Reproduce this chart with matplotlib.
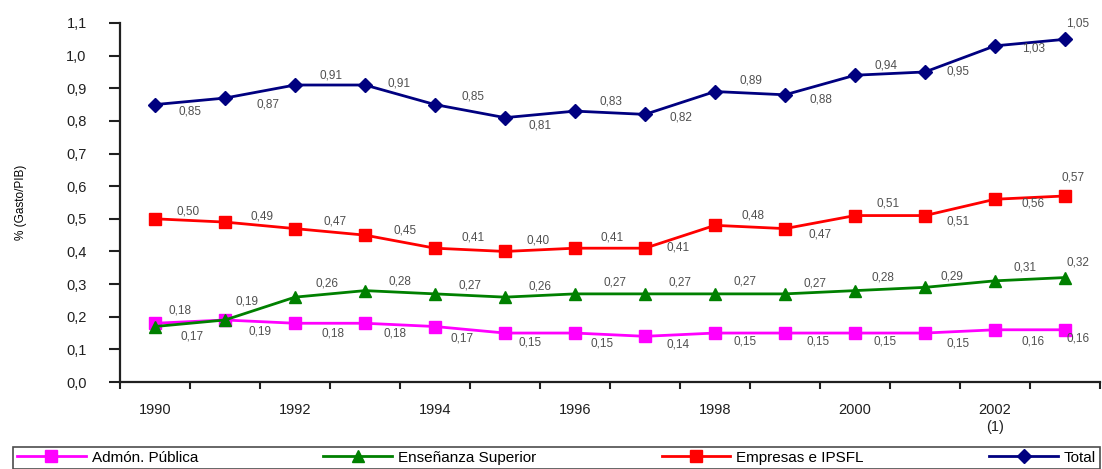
import matplotlib
matplotlib.use("Agg")
import matplotlib.pyplot as plt
from matplotlib.ticker import FixedLocator, FuncFormatter

plt.rcParams['font.family'] = ['Liberation Sans', 'DejaVu Sans']

years = ["1990", "", "1992", "", "1994", "", "1996", "", "1998", "", "2000", "", "2002\n(1)", ""]
admon = [0.18, 0.19, 0.18, 0.18, 0.17, 0.15, 0.15, 0.14, 0.15, 0.15, 0.15, 0.15, 0.16, 0.16]
ensenanza = [0.17, 0.19, 0.26, 0.28, 0.27, 0.26, 0.27, 0.27, 0.27, 0.27, 0.28, 0.29, 0.31, 0.32]
empresas = [0.50, 0.49, 0.47, 0.45, 0.41, 0.40, 0.41, 0.41, 0.48, 0.47, 0.51, 0.51, 0.56, 0.57]
total = [0.85, 0.87, 0.91, 0.91, 0.85, 0.81, 0.83, 0.82, 0.89, 0.88, 0.94, 0.95, 1.03, 1.05]
names = ["Admón. Pública", "Enseñanza Superior", "Empresas e IPSFL", "Total"]

# label offsets in pixels (dx, dy) relative to the point, dy positive = up
off_admon = [(25, 13), (35, -12), (38, -10), (30, -10), (27, -12), (25, -9), (27, -10), (33, -8),
             (30, -8), (33, -8), (30, -8), (33, -10), (38, -12), (13, -9)]
off_ens = [(37, -10), (22, 18), (32, 14), (35, 9), (35, 8), (35, 11), (40, 11), (35, 11),
           (30, 12), (30, 10), (28, 13), (27, 11), (30, 13), (13, 15)]
off_emp = [(33, 7), (37, 6), (40, 7), (40, 5), (38, 11), (33, 11), (37, 11), (33, 1),
           (38, 10), (35, -6), (33, 12), (33, -6), (38, -4), (8, 18)]
off_tot = [(35, -7), (43, -6), (36, 10), (34, 2), (38, 8), (35, -8), (36, 10), (36, -3),
           (36, 11), (36, -5), (31, 10), (33, 0), (39, -3), (13, 16)]

fig = plt.figure(figsize=(11.02, 4.69), dpi=100)
ax = fig.add_axes([120/1102, 1-382/469, 980/1102, 359/469])

x = list(range(len(total)))
series = [
    (admon, "#FF00FF", "s", 9, off_admon),
    (ensenanza, "#008000", "^", 9, off_ens),
    (empresas, "#FF0000", "s", 9, off_emp),
    (total, "#000080", "D", 7.5, off_tot),
]
handles = []
for (vals, col, mk, ms, offs), nm in zip(series, names):
    h, = ax.plot(x, vals, color=col, marker=mk, markersize=ms, linewidth=2.0,
                 markeredgecolor=col, label=nm, clip_on=False, zorder=3)
    handles.append(h)
    for xi, v, (dx, dy) in zip(x, vals, offs):
        ax.annotate(f"{v:.2f}".replace(".", ","), (xi, v), xytext=(dx, dy),
                    textcoords="offset pixels", ha="center", va="center",
                    fontsize=8.5, color="#505050")

ax.set_xlim(-0.5, len(total) - 0.5)
ax.set_ylim(0, 1.1)
ax.spines["top"].set_visible(False)
ax.spines["right"].set_visible(False)
for s in ("left", "bottom"):
    ax.spines[s].set_linewidth(1.6)
    ax.spines[s].set_color("#202020")

ax.xaxis.set_major_locator(FixedLocator(x))
ax.set_xticklabels(years, fontsize=10.5, linespacing=1.3, color="#202020")
ax.xaxis.set_minor_locator(FixedLocator([i - 0.5 for i in range(len(total) + 1)]))
ax.tick_params(axis="x", which="major", length=0, pad=15)
ax.tick_params(axis="x", which="minor", length=5, width=1.5, color="#202020")

yt = [i / 10 for i in range(12)]
ax.yaxis.set_major_locator(FixedLocator(yt))
ax.yaxis.set_major_formatter(FuncFormatter(lambda v, p: f"{v:.1f}".replace(".", ",")))
ax.tick_params(axis="y", length=8, width=1.5, color="#202020", labelsize=10.5,
               labelcolor="#202020", pad=16)
ax.set_ylabel("% (Gasto/PIB)", fontsize=8.5)
ax.yaxis.set_label_coords(-0.095, 0.5)

leg = fig.legend(handles=handles, labels=names, loc="upper left",
                 bbox_to_anchor=(13/1102, 1-447/469, 1087/1102, 0), mode="expand",
                 ncol=4, frameon=True, fancybox=False, edgecolor="#202020",
                 fontsize=11, handlelength=4.5, borderpad=0.25, handletextpad=0.4,
                 borderaxespad=0)
leg.get_frame().set_linewidth(1.2)

fig.savefig("out.png", dpi=100)
